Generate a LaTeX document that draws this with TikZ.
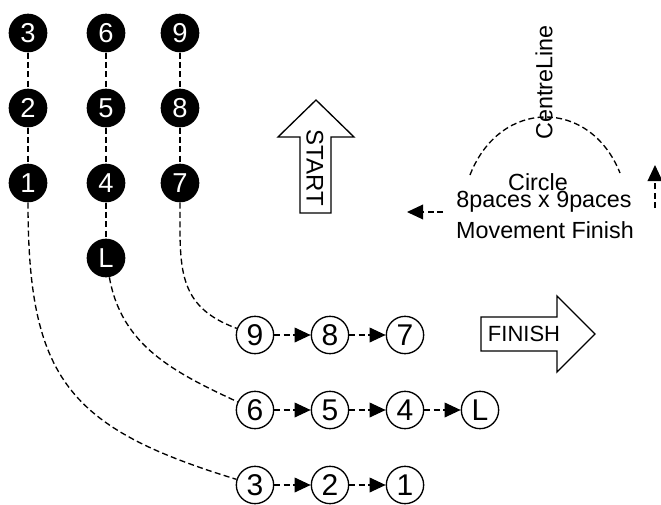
\documentclass[tikz,border=0pt]{standalone}
\usepackage{fontspec}
\setmainfont{Liberation Sans}
\usetikzlibrary{arrows.meta,positioning}

\begin{document}
\begin{tikzpicture}[x=0.75pt,y=0.75pt,>={Triangle[length=12pt,width=11pt]},
    node distance=56.25pt,
    pace/.style={circle,fill=black,text=white,minimum size=29pt,inner sep=0pt,font=\fontsize{20.5}{20}\selectfont},
    spot/.style={circle,draw,line width=1pt,minimum size=28pt,inner sep=0pt,font=\fontsize{22.5}{22}\selectfont},
    trail/.style={dash pattern=on 4.5pt off 2.5pt,line width=1pt},
    bigarrow/.style={draw,line width=1pt,line join=miter},
    label text/.style={font=\fontsize{17.5}{18}\selectfont,inner sep=0pt}]

  \useasboundingbox (0,0) rectangle (661,-504);

  % starting columns
  \node[pace] (a3) at (28,-33) {3};
  \node[pace] (a2) [below of=a3] {2};
  \node[pace] (a1) [below of=a2] {1};
  \node[pace] (b6) at (106,-33) {6};
  \node[pace] (b5) [below of=b6] {5};
  \node[pace] (b4) [below of=b5] {4};
  \node[pace] (bL) [below of=b4] {L};
  \node[pace] (c9) at (180,-33) {9};
  \node[pace] (c8) [below of=c9] {8};
  \node[pace] (c7) [below of=c8] {7};

  % finishing rows
  \node[spot] (r9) at (255,-335) {9};
  \node[spot] (r8) [right of=r9] {8};
  \node[spot] (r7) [right of=r8] {7};
  \node[spot] (s6) at (255,-410) {6};
  \node[spot] (s5) [right of=s6] {5};
  \node[spot] (s4) [right of=s5] {4};
  \node[spot] (sL) [right of=s4] {L};
  \node[spot] (t3) at (255,-485) {3};
  \node[spot] (t2) [right of=t3] {2};
  \node[spot] (t1) [right of=t2] {1};

  \draw[trail] (a3) -- (a2) -- (a1);
  \draw[trail] (b6) -- (b5) -- (b4) -- (bL);
  \draw[trail] (c9) -- (c8) -- (c7);

  \draw[trail] (a1) to[out=-90,in=163,looseness=1.3] (t3);
  \draw[trail] (bL) to[out=-80,in=155] (s6);
  \draw[trail] (c7) to[out=-90,in=160,looseness=1.2] (r9);

  \draw[trail,->] (r9) -- (r8);
  \draw[trail,->] (r8) -- (r7);
  \draw[trail,->] (s6) -- (s5);
  \draw[trail,->] (s5) -- (s4);
  \draw[trail,->] (s4) -- (sL);
  \draw[trail,->] (t3) -- (t2);
  \draw[trail,->] (t2) -- (t1);

  % start and finish arrows
  \path[bigarrow] (316,-100) -- (354,-137) -- (331,-137) -- (331,-213)
    -- (300,-213) -- (300,-137) -- (278,-137) -- cycle;
  \node[label text,font=\fontsize{18}{18}\selectfont,rotate=-90] (start) at (315,-168) {START};
  \path[bigarrow] (481,-317) -- (557,-317) -- (557,-296) -- (595,-334)
    -- (557,-372) -- (557,-351) -- (481,-351) -- cycle;
  \node[label text,font=\fontsize{16.5}{17}\selectfont] (finish) at (524,-334) {FINISH};

  % circle movement
  \draw[trail] (470,-175) .. controls (500,-98) and (590,-98) .. (620,-173);
  \node[label text,rotate=90] (centre) at (544,-82.5) {CentreLine};
  \node[label text,anchor=base] (circ) at (538,-190) {Circle};
  \node[label text,anchor=base] (paces) at (544,-207) {8paces x 9paces};
  \node[label text,anchor=base] (move) at (545,-238) {Movement Finish};
  \coordinate (outL) at (443,-212);
  \coordinate (outLtip) at (407,-212);
  \coordinate (outR) at (655,-208);
  \coordinate (outRtip) at (655,-165);
  \draw[trail,->] (outL) -- (outLtip);
  \draw[trail,->] (outR) -- (outRtip);
\end{tikzpicture}
\end{document}
